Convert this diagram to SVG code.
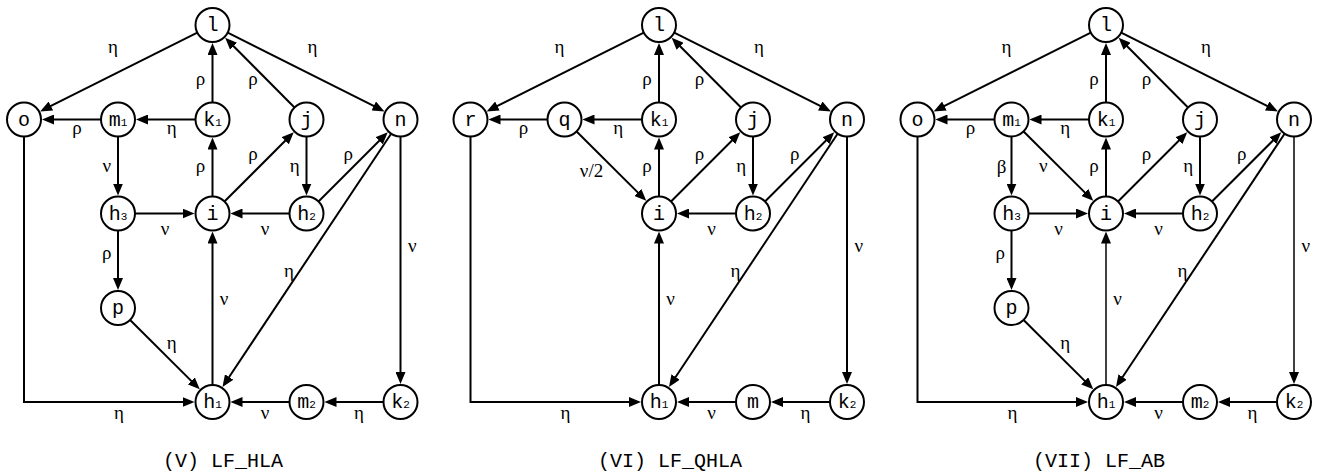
<svg xmlns="http://www.w3.org/2000/svg" width="1319" height="475" viewBox="0 0 1319 475">
<style>
.e{stroke:#000;stroke-width:2;fill:none;marker-end:url(#ah)}
.thin{stroke-width:1.5}
.n circle{fill:#fff;stroke:#000;stroke-width:2}
.nt{font-family:"Liberation Mono",monospace;font-size:20px;text-anchor:middle;fill:#000}
.sb{font-size:11px}
.lb{font-family:"Liberation Serif",serif;font-size:19px;text-anchor:middle;fill:#000}
.cap{font-family:"Liberation Mono",monospace;font-size:20px;text-anchor:middle;fill:#000}
</style>
<defs>
<marker id="ah" markerUnits="userSpaceOnUse" markerWidth="12" markerHeight="10" refX="6" refY="5" orient="auto" viewBox="0 0 12 10">
<path d="M0,0 L12,5 L0,10 z" fill="#000"/>
</marker>
</defs>
<rect width="1319" height="475" fill="#fff"/>

<!-- Diagram V -->
<g id="diagram-V">
<g id="V-connectors">
<line class="e" x1="197.3" y1="32.6" x2="45.5" y2="108.7"/>
<line class="e" x1="227.7" y1="32.6" x2="379.1" y2="108.7"/>
<line class="e" x1="212.5" y1="102.5" x2="212.5" y2="49"/>
<line class="e" x1="294.5" y1="107.5" x2="229.4" y2="42"/>
<line class="e" x1="195.5" y1="119.5" x2="142" y2="119.5"/>
<line class="e" x1="101" y1="119.5" x2="48" y2="119.5"/>
<line class="e" x1="118" y1="136.5" x2="118" y2="189.5"/>
<line class="e" x1="212.5" y1="196.5" x2="212.5" y2="143.5"/>
<line class="e" x1="224.5" y1="201.5" x2="289.5" y2="136.5"/>
<line class="e" x1="306.5" y1="136.5" x2="306.5" y2="189.5"/>
<line class="e" x1="318.5" y1="201.5" x2="383.5" y2="136.5"/>
<line class="e" x1="135" y1="213.5" x2="188.5" y2="213.5"/>
<line class="e" x1="289.5" y1="213.5" x2="236.5" y2="213.5"/>
<line class="e" x1="391.1" y1="133.7" x2="225.8" y2="382"/>
<line class="e" x1="400.5" y1="136.5" x2="400.5" y2="378"/>
<line class="e" x1="118" y1="230.5" x2="118" y2="284"/>
<line class="e" x1="130.1" y1="320" x2="195.5" y2="385.1"/>
<line class="e" x1="212.5" y1="385" x2="212.5" y2="237.5"/>
<polyline class="e" points="24,136.5 24,402 188.5,402"/>
<line class="e" x1="289.5" y1="402" x2="236.5" y2="402"/>
<line class="e" x1="383.5" y1="402" x2="330.5" y2="402"/>
<text class="lb" x="113" y="53">η</text>
<text class="lb" x="312.5" y="53">η</text>
<text class="lb" x="200.5" y="84.5">ρ</text>
<text class="lb" x="253" y="84.5">ρ</text>
<text class="lb" x="77" y="133.5">ρ</text>
<text class="lb" x="171.7" y="133.5">η</text>
<text class="lb" x="106.7" y="171.5">ν</text>
<text class="lb" x="200.5" y="171.5">ρ</text>
<text class="lb" x="253" y="160">ρ</text>
<text class="lb" x="294.7" y="171.5">η</text>
<text class="lb" x="348.3" y="160">ρ</text>
<text class="lb" x="165" y="235">ν</text>
<text class="lb" x="265" y="235">ν</text>
<text class="lb" x="412.3" y="251.5">ν</text>
<text class="lb" x="106.7" y="258.5">ρ</text>
<text class="lb" x="289" y="276.5">η</text>
<text class="lb" x="224" y="305">ν</text>
<text class="lb" x="171.7" y="348.5">η</text>
<text class="lb" x="119" y="418.5">η</text>
<text class="lb" x="265" y="418.5">ν</text>
<text class="lb" x="359" y="418.5">η</text>
</g>
<g id="V-l" class="n"><circle cx="212.5" cy="25" r="17"/><text class="nt" x="212.5" y="31">l</text></g>
<g id="V-o" class="n"><circle cx="24" cy="119.5" r="17"/><text class="nt" x="24" y="125.5">o</text></g>
<g id="V-m1" class="n"><circle cx="118" cy="119.5" r="17"/><text class="nt" x="118" y="125.5">m<tspan class="sb">1</tspan></text></g>
<g id="V-k1" class="n"><circle cx="212.5" cy="119.5" r="17"/><text class="nt" x="212.5" y="125.5">k<tspan class="sb">1</tspan></text></g>
<g id="V-j" class="n"><circle cx="306.5" cy="119.5" r="17"/><text class="nt" x="306.5" y="125.5">j</text></g>
<g id="V-n" class="n"><circle cx="400.5" cy="119.5" r="17"/><text class="nt" x="400.5" y="125.5">n</text></g>
<g id="V-h3" class="n"><circle cx="118" cy="213.5" r="17"/><text class="nt" x="118" y="219.5">h<tspan class="sb">3</tspan></text></g>
<g id="V-i" class="n"><circle cx="212.5" cy="213.5" r="17"/><text class="nt" x="212.5" y="219.5">i</text></g>
<g id="V-h2" class="n"><circle cx="306.5" cy="213.5" r="17"/><text class="nt" x="306.5" y="219.5">h<tspan class="sb">2</tspan></text></g>
<g id="V-p" class="n"><circle cx="118" cy="308" r="17"/><text class="nt" x="118" y="314">p</text></g>
<g id="V-h1" class="n"><circle cx="212.5" cy="402" r="17"/><text class="nt" x="212.5" y="408">h<tspan class="sb">1</tspan></text></g>
<g id="V-m2" class="n"><circle cx="306.5" cy="402" r="17"/><text class="nt" x="306.5" y="408">m<tspan class="sb">2</tspan></text></g>
<g id="V-k2" class="n"><circle cx="400.5" cy="402" r="17"/><text class="nt" x="400.5" y="408">k<tspan class="sb">2</tspan></text></g>
<text class="cap" x="223" y="467">(V) LF_HLA</text>
</g>

<!-- Diagram VI -->
<g id="diagram-VI" transform="translate(446.5,0)">
<g id="VI-connectors">
<line class="e" x1="197.3" y1="32.6" x2="45.5" y2="108.7"/>
<line class="e" x1="227.7" y1="32.6" x2="379.1" y2="108.7"/>
<line class="e" x1="212.5" y1="102.5" x2="212.5" y2="49"/>
<line class="e" x1="294.5" y1="107.5" x2="229.4" y2="42"/>
<line class="e" x1="195.5" y1="119.5" x2="142" y2="119.5"/>
<line class="e" x1="101" y1="119.5" x2="48" y2="119.5"/>
<line class="e" x1="130.1" y1="131.5" x2="195.5" y2="196.6"/>
<line class="e" x1="212.5" y1="196.5" x2="212.5" y2="143.5"/>
<line class="e" x1="224.5" y1="201.5" x2="289.5" y2="136.5"/>
<line class="e" x1="306.5" y1="136.5" x2="306.5" y2="189.5"/>
<line class="e" x1="318.5" y1="201.5" x2="383.5" y2="136.5"/>
<line class="e" x1="289.5" y1="213.5" x2="236.5" y2="213.5"/>
<line class="e" x1="391.1" y1="133.7" x2="225.8" y2="382"/>
<line class="e" x1="400.5" y1="136.5" x2="400.5" y2="378"/>
<line class="e" x1="212.5" y1="385" x2="212.5" y2="237.5"/>
<polyline class="e" points="24,136.5 24,402 188.5,402"/>
<line class="e" x1="289.5" y1="402" x2="236.5" y2="402"/>
<line class="e" x1="383.5" y1="402" x2="330.5" y2="402"/>
<text class="lb" x="113" y="53">η</text>
<text class="lb" x="312.5" y="53">η</text>
<text class="lb" x="200.5" y="84.5">ρ</text>
<text class="lb" x="253" y="84.5">ρ</text>
<text class="lb" x="77" y="133.5">ρ</text>
<text class="lb" x="171.7" y="133.5">η</text>
<text class="lb" x="145" y="177">ν/2</text>
<text class="lb" x="200.5" y="171.5">ρ</text>
<text class="lb" x="253" y="160">ρ</text>
<text class="lb" x="294.7" y="171.5">η</text>
<text class="lb" x="348.3" y="160">ρ</text>
<text class="lb" x="265" y="235">ν</text>
<text class="lb" x="412.3" y="251.5">ν</text>
<text class="lb" x="289" y="276.5">η</text>
<text class="lb" x="224" y="305">ν</text>
<text class="lb" x="119" y="418.5">η</text>
<text class="lb" x="265" y="418.5">ν</text>
<text class="lb" x="359" y="418.5">η</text>
</g>
<g id="VI-l" class="n"><circle cx="212.5" cy="25" r="17"/><text class="nt" x="212.5" y="31">l</text></g>
<g id="VI-r" class="n"><circle cx="24" cy="119.5" r="17"/><text class="nt" x="24" y="125.5">r</text></g>
<g id="VI-q" class="n"><circle cx="118" cy="119.5" r="17"/><text class="nt" x="118" y="125.5">q</text></g>
<g id="VI-k1" class="n"><circle cx="212.5" cy="119.5" r="17"/><text class="nt" x="212.5" y="125.5">k<tspan class="sb">1</tspan></text></g>
<g id="VI-j" class="n"><circle cx="306.5" cy="119.5" r="17"/><text class="nt" x="306.5" y="125.5">j</text></g>
<g id="VI-n" class="n"><circle cx="400.5" cy="119.5" r="17"/><text class="nt" x="400.5" y="125.5">n</text></g>
<g id="VI-i" class="n"><circle cx="212.5" cy="213.5" r="17"/><text class="nt" x="212.5" y="219.5">i</text></g>
<g id="VI-h2" class="n"><circle cx="306.5" cy="213.5" r="17"/><text class="nt" x="306.5" y="219.5">h<tspan class="sb">2</tspan></text></g>
<g id="VI-h1" class="n"><circle cx="212.5" cy="402" r="17"/><text class="nt" x="212.5" y="408">h<tspan class="sb">1</tspan></text></g>
<g id="VI-m" class="n"><circle cx="306.5" cy="402" r="17"/><text class="nt" x="306.5" y="408">m</text></g>
<g id="VI-k2" class="n"><circle cx="400.5" cy="402" r="17"/><text class="nt" x="400.5" y="408">k<tspan class="sb">2</tspan></text></g>
<text class="cap" x="223.5" y="467">(VI) LF_QHLA</text>
</g>

<!-- Diagram VII -->
<g id="diagram-VII" transform="translate(893.5,0)">
<g id="VII-connectors">
<line class="e" x1="197.3" y1="32.6" x2="45.5" y2="108.7"/>
<line class="e" x1="227.7" y1="32.6" x2="379.1" y2="108.7"/>
<line class="e" x1="212.5" y1="102.5" x2="212.5" y2="49"/>
<line class="e" x1="294.5" y1="107.5" x2="229.4" y2="42"/>
<line class="e" x1="195.5" y1="119.5" x2="142" y2="119.5"/>
<line class="e" x1="101" y1="119.5" x2="48" y2="119.5"/>
<line class="e" x1="118" y1="136.5" x2="118" y2="189.5"/>
<line class="e" x1="130.1" y1="131.5" x2="195.5" y2="196.6"/>
<line class="e" x1="212.5" y1="196.5" x2="212.5" y2="143.5"/>
<line class="e" x1="224.5" y1="201.5" x2="289.5" y2="136.5"/>
<line class="e" x1="306.5" y1="136.5" x2="306.5" y2="189.5"/>
<line class="e" x1="318.5" y1="201.5" x2="383.5" y2="136.5"/>
<line class="e" x1="135" y1="213.5" x2="188.5" y2="213.5"/>
<line class="e" x1="289.5" y1="213.5" x2="236.5" y2="213.5"/>
<line class="e" x1="391.1" y1="133.7" x2="225.8" y2="382"/>
<line class="e thin" x1="400.5" y1="136.5" x2="400.5" y2="378"/>
<line class="e" x1="118" y1="230.5" x2="118" y2="284"/>
<line class="e" x1="130.1" y1="320" x2="195.5" y2="385.1"/>
<line class="e thin" x1="212.5" y1="385" x2="212.5" y2="237.5"/>
<polyline class="e" points="24,136.5 24,402 188.5,402"/>
<line class="e" x1="289.5" y1="402" x2="236.5" y2="402"/>
<line class="e" x1="383.5" y1="402" x2="330.5" y2="402"/>
<text class="lb" x="113" y="53">η</text>
<text class="lb" x="312.5" y="53">η</text>
<text class="lb" x="200.5" y="84.5">ρ</text>
<text class="lb" x="253" y="84.5">ρ</text>
<text class="lb" x="77" y="133.5">ρ</text>
<text class="lb" x="171.7" y="133.5">η</text>
<text class="lb" x="108.2" y="172.5">β</text>
<text class="lb" x="149.8" y="171.5">ν</text>
<text class="lb" x="200.5" y="171.5">ρ</text>
<text class="lb" x="253" y="160">ρ</text>
<text class="lb" x="294.7" y="171.5">η</text>
<text class="lb" x="348.3" y="160">ρ</text>
<text class="lb" x="165" y="235">ν</text>
<text class="lb" x="265" y="235">ν</text>
<text class="lb" x="412.3" y="251.5">ν</text>
<text class="lb" x="106.7" y="258.5">ρ</text>
<text class="lb" x="289" y="276.5">η</text>
<text class="lb" x="224" y="305">ν</text>
<text class="lb" x="171.7" y="348.5">η</text>
<text class="lb" x="119" y="418.5">η</text>
<text class="lb" x="265" y="418.5">ν</text>
<text class="lb" x="359" y="418.5">η</text>
</g>
<g id="VII-l" class="n"><circle cx="212.5" cy="25" r="17"/><text class="nt" x="212.5" y="31">l</text></g>
<g id="VII-o" class="n"><circle cx="24" cy="119.5" r="17"/><text class="nt" x="24" y="125.5">o</text></g>
<g id="VII-m1" class="n"><circle cx="118" cy="119.5" r="17"/><text class="nt" x="118" y="125.5">m<tspan class="sb">1</tspan></text></g>
<g id="VII-k1" class="n"><circle cx="212.5" cy="119.5" r="17"/><text class="nt" x="212.5" y="125.5">k<tspan class="sb">1</tspan></text></g>
<g id="VII-j" class="n"><circle cx="306.5" cy="119.5" r="17"/><text class="nt" x="306.5" y="125.5">j</text></g>
<g id="VII-n" class="n"><circle cx="400.5" cy="119.5" r="17"/><text class="nt" x="400.5" y="125.5">n</text></g>
<g id="VII-h3" class="n"><circle cx="118" cy="213.5" r="17"/><text class="nt" x="118" y="219.5">h<tspan class="sb">3</tspan></text></g>
<g id="VII-i" class="n"><circle cx="212.5" cy="213.5" r="17"/><text class="nt" x="212.5" y="219.5">i</text></g>
<g id="VII-h2" class="n"><circle cx="306.5" cy="213.5" r="17"/><text class="nt" x="306.5" y="219.5">h<tspan class="sb">2</tspan></text></g>
<g id="VII-p" class="n"><circle cx="118" cy="308" r="17"/><text class="nt" x="118" y="314">p</text></g>
<g id="VII-h1" class="n"><circle cx="212.5" cy="402" r="17"/><text class="nt" x="212.5" y="408">h<tspan class="sb">1</tspan></text></g>
<g id="VII-m2" class="n"><circle cx="306.5" cy="402" r="17"/><text class="nt" x="306.5" y="408">m<tspan class="sb">2</tspan></text></g>
<g id="VII-k2" class="n"><circle cx="400.5" cy="402" r="17"/><text class="nt" x="400.5" y="408">k<tspan class="sb">2</tspan></text></g>
<text class="cap" x="205.5" y="467">(VII) LF_AB</text>
</g>
</svg>
